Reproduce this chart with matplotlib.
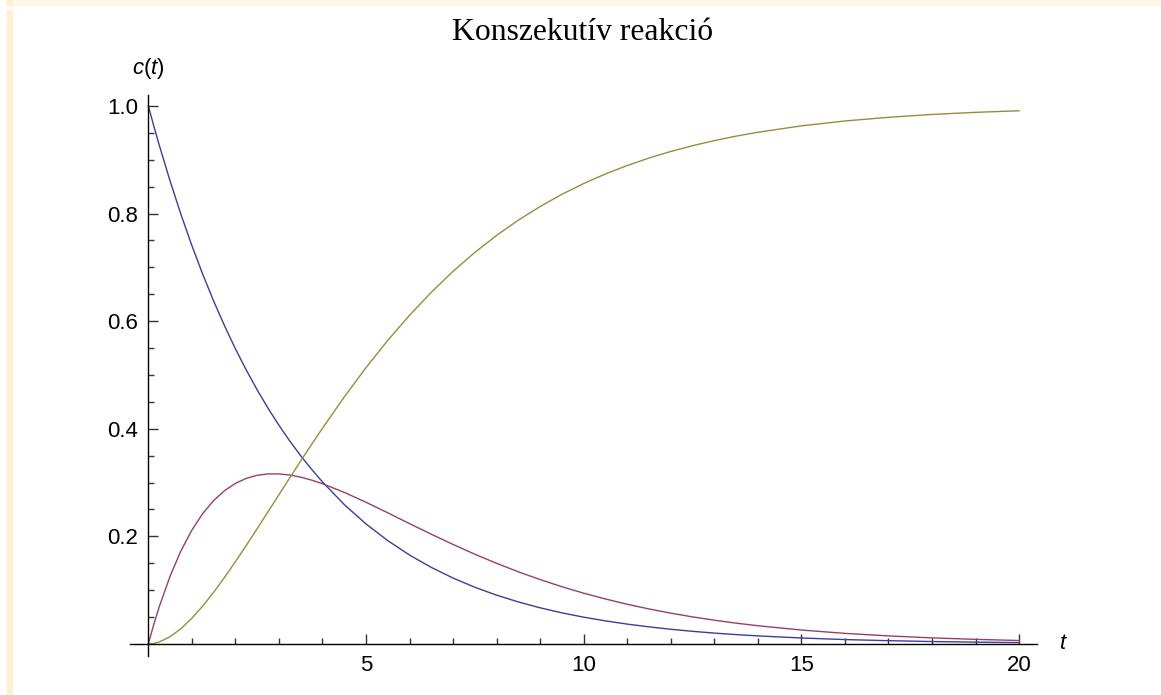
import matplotlib
matplotlib.use("Agg")
import matplotlib.pyplot as plt
from matplotlib.patches import Rectangle
from matplotlib.ticker import FixedLocator

plt.rcParams['font.family'] = ['Liberation Sans', 'DejaVu Sans']
plt.rcParams['mathtext.fontset'] = 'custom'
plt.rcParams['mathtext.it'] = 'Liberation Sans:italic'
plt.rcParams['mathtext.rm'] = 'Liberation Sans'

# values
t = [0, 0.125, 0.25, 0.5, 0.75, 1, 1.25, 1.5, 1.75, 2, 2.25, 2.5, 2.75, 3,
     3.25, 3.5, 3.75, 4, 4.5, 5, 5.5, 6, 6.5, 7, 7.5, 8, 8.5, 9, 9.5, 10,
     10.5, 11, 11.5, 12, 12.5, 13, 13.5, 14, 15, 16, 17, 18, 19, 20]
c_a = [1.0, 0.9632, 0.9277, 0.8607, 0.7985, 0.7408, 0.6873, 0.6376, 0.5916,
       0.5488, 0.5092, 0.4724, 0.4382, 0.4066, 0.3772, 0.3499, 0.3247, 0.3012,
       0.2592, 0.2231, 0.1921, 0.1653, 0.1423, 0.1225, 0.1054, 0.0907, 0.0781,
       0.0672, 0.0578, 0.0498, 0.0429, 0.0369, 0.0318, 0.0273, 0.0235, 0.0202,
       0.0174, 0.0150, 0.0111, 0.0082, 0.0061, 0.0045, 0.0034, 0.0025]
c_b = [0.0, 0.0359, 0.0687, 0.1259, 0.1731, 0.2115, 0.2423, 0.2665, 0.2849,
       0.2984, 0.3078, 0.3135, 0.3161, 0.3161, 0.3140, 0.3100, 0.3046, 0.2979,
       0.2818, 0.2634, 0.2438, 0.2237, 0.2040, 0.1850, 0.1668, 0.1499, 0.1341,
       0.1197, 0.1064, 0.0944, 0.0836, 0.0738, 0.0651, 0.0573, 0.0503, 0.0442,
       0.0387, 0.0339, 0.0259, 0.0197, 0.0150, 0.0113, 0.0086, 0.0064]
c_c = [0.0, 0.0009, 0.0036, 0.0134, 0.0284, 0.0477, 0.0704, 0.0959, 0.1235,
       0.1528, 0.1831, 0.2142, 0.2457, 0.2773, 0.3088, 0.3400, 0.3708, 0.4009,
       0.4589, 0.5135, 0.5642, 0.6110, 0.6537, 0.6926, 0.7278, 0.7594, 0.7878,
       0.8131, 0.8358, 0.8558, 0.8736, 0.8893, 0.9032, 0.9154, 0.9261, 0.9356,
       0.9439, 0.9511, 0.9630, 0.9721, 0.9789, 0.9842, 0.9881, 0.9911]

colors = ['#3d3d99', '#993d71', '#998b3d']
x_major = [5, 10, 15, 20]
y_major = [0.2, 0.4, 0.6, 0.8, 1.0]

fig = plt.figure(figsize=(11.61, 6.95), dpi=100)

# notebook cell frame strips
fig.patches.append(Rectangle((7 / 1161, 1 - 5 / 695), 1, 5 / 695,
                             transform=fig.transFigure, color='#fcf7e6', zorder=0))
fig.patches.append(Rectangle((7 / 1161, 1 - 5 / 695), 5 / 1161, 5 / 695,
                             transform=fig.transFigure, color='#fff0d4', zorder=0))
fig.patches.append(Rectangle((7 / 1161, 0), 5 / 1161, 1 - 10 / 695,
                             transform=fig.transFigure, color='#fff0d4', zorder=0))

ax = fig.add_axes([130 / 1161, 39.2 / 695, 906.9 / 1161, 560.6 / 695])
ax.set_facecolor('none')

for ys, col in zip([c_a, c_b, c_c], colors):
    ax.plot(t, ys, color=col, lw=1.0, clip_on=False)

ax.set_xlim(-0.42, 20.41)
ax.set_ylim(-0.022, 1.02)

ax.spines['left'].set_position(('data', 0))
ax.spines['bottom'].set_position(('data', 0))
ax.spines['right'].set_visible(False)
ax.spines['top'].set_visible(False)
for s in ['left', 'bottom']:
    ax.spines[s].set_linewidth(1.0)

ax.xaxis.set_major_locator(FixedLocator(x_major))
ax.xaxis.set_minor_locator(FixedLocator([v for v in range(1, 20) if v % 5]))
ax.yaxis.set_major_locator(FixedLocator(y_major))
ax.yaxis.set_minor_locator(FixedLocator([i * 0.05 for i in range(1, 21) if i % 4]))
ax.set_xticklabels([str(v) for v in x_major])
ax.set_yticklabels(['%.1f' % v for v in y_major])

ax.tick_params(which='both', direction='in', color='#333333', width=1.0,
               labelsize=16)
ax.tick_params(which='major', length=7.2)
ax.tick_params(which='minor', length=4.5)
ax.tick_params(axis='x', which='major', pad=8)
ax.tick_params(axis='y', which='major', pad=7.5)

ax.text(0, 1.069, r'$c(t)$', ha='center', va='center', fontsize=16, clip_on=False)
ax.text(21.01, 0, r'$t$', ha='center', va='center', fontsize=16, clip_on=False)

fig.text(583 / 1161, 1 - 32 / 695, 'Konszekutív reakció', ha='center', va='center',
         fontsize=22.8, family=['Liberation Serif', 'DejaVu Serif'])

fig.savefig('out.png', dpi=100)
